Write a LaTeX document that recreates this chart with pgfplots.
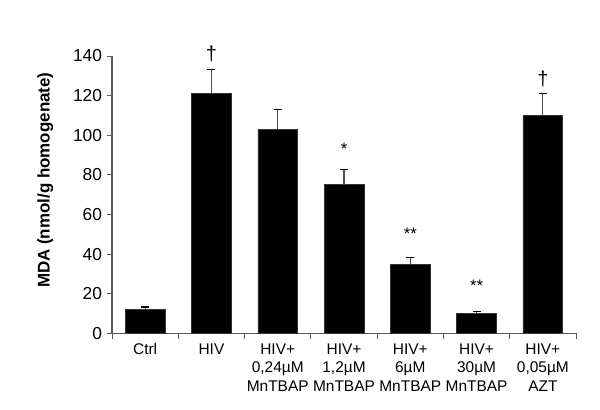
\documentclass[border=0pt]{standalone}
\usepackage{pgfplots}
\pgfplotsset{compat=1.18}
\usepackage{fontspec}
\setmainfont{Liberation Sans}
\begin{document}
\begin{tikzpicture}
\begin{axis}[
  scale only axis,
  width=348pt, height=208pt,
  xmin=-0.5, xmax=6.5, ymin=0, ymax=140,
  axis x line*=bottom, axis y line*=left,
  axis line style={black!65, line width=0.8pt},
  xtick={0,...,6},
  xticklabels={Ctrl, HIV, {HIV+\\0,24\textmu M\\MnTBAP}, {HIV+\\1,2\textmu M\\MnTBAP}, {HIV+\\6\textmu M\\MnTBAP}, {HIV+\\30\textmu M\\MnTBAP}, {HIV+\\0,05\textmu M\\AZT}},
  xticklabel style={align=center, font=\fontsize{11.6}{14}\selectfont},
  major x tick style={draw=none},
  minor xtick={-0.5,0.5,...,6.5},
  minor x tick style={black!65, line width=0.6pt},
  minor tick length=4pt,
  ytick={0,20,...,140},
  yticklabel style={font=\fontsize{13}{14}\selectfont},
  /pgf/number format/assume math mode=true,
  major y tick style={black!65, line width=0.6pt},
  major tick length=4pt,
  tick align=outside,
  ylabel={\textbf{MDA (nmol/g homogenate)}},
  ylabel style={font=\fontsize{12.7}{14}\selectfont, at={(axis description cs:-0.144,0.552)}, anchor=center},
  clip=false,
]
\addplot[ybar, bar width=0.6, fill=black, draw=black!80,
  error bars/.cd, y dir=plus, y explicit,
  error bar style={black!70, line width=0.8pt},
  error mark options={rotate=90, mark size=3pt, black, line width=0.8pt}]
  table[x=x, y=y, y error=e] {
x y e
0 12 1.3
1 121 12
2 103 10
3 75 7.5
4 35 3.4
5 10 0.8
6 110 11
};
\node[font=\fontsize{15}{15}\selectfont] at (axis cs:1,141) {\dag};
\node[font=\fontsize{15}{15}\selectfont] at (axis cs:6,128.5) {\dag};
\node[font=\fontsize{12.5}{14}\selectfont] at (axis cs:3,93) {*};
\node[font=\fontsize{12.5}{14}\selectfont] at (axis cs:4,50.5) {**};
\node[font=\fontsize{12.5}{14}\selectfont] at (axis cs:5,24) {**};
\end{axis}
\path (current axis.south west) ++(-84pt,-57pt) coordinate (bl);
\path (current axis.north east) ++(18pt,42pt) coordinate (tr);
\useasboundingbox (bl) rectangle (tr);
\end{tikzpicture}
\end{document}
